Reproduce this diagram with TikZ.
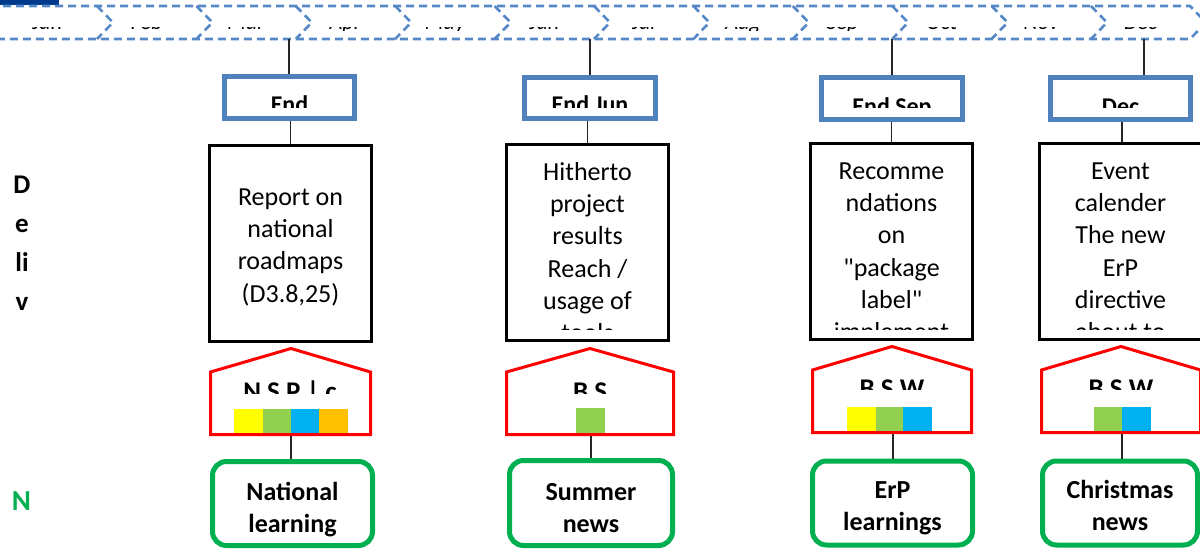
\documentclass[tikz,border=0pt]{standalone}
\usepackage{fontspec}
\setmainfont{Carlito}[Ligatures=TeXOff]
\definecolor{boxblue}{RGB}{79,129,189}
\definecolor{chevblue}{RGB}{86,136,200}
\definecolor{topblue}{RGB}{0,58,140}
\definecolor{newsgreen}{RGB}{0,176,80}
\definecolor{sqyellow}{RGB}{255,255,0}
\definecolor{sqgreen}{RGB}{146,208,80}
\definecolor{sqblue}{RGB}{0,176,240}
\definecolor{sqorange}{RGB}{255,192,0}
\begin{document}
\begin{tikzpicture}[x=1pt,y=-1pt]
\tikzset{
  chev/.style={draw=chevblue, line width=2.6pt, dash pattern=on 8pt off 5pt},
  conn/.style={draw=black!85, line width=1.5pt},
  datebox/.style={draw=boxblue, line width=5pt, inner sep=0pt, minimum height=42pt},
  delivbox/.style={draw=black, line width=3pt, inner sep=0pt, minimum width=162pt, minimum height=196pt},
  newsbox/.style={draw=newsgreen, line width=5pt, rounded corners=14pt, inner sep=0pt, minimum height=84pt},
  housebox/.style={draw=red, line width=3pt, line join=miter},
  monthtxt/.style={font=\fontsize{22}{26}\selectfont\itshape, inner sep=0pt, anchor=base},
  datetxt/.style={font=\fontsize{24}{29}\selectfont\bfseries, inner sep=0pt, anchor=base},
  housetxt/.style={font=\fontsize{27}{32}\selectfont\bfseries, inner sep=0pt, anchor=base},
  delivtxt/.style={font=\fontsize{26}{32.3}\selectfont, inner sep=0pt, align=center, anchor=north},
  newstxt/.style={font=\fontsize{26}{32}\selectfont\bfseries, inner sep=0pt, align=center, anchor=north},
  lefttxt/.style={font=\fontsize{27}{39}\selectfont\bfseries, inner sep=0pt, align=center, anchor=north}
}
\useasboundingbox (0,0) rectangle (1200,553);
\fill[white] (0,0) rectangle (1200,553);

% top-left bar
\fill[topblue] (0,0) rectangle (59,5);

% chevron timeline
\draw[chev] (-10,6) -- (1190,6) -- (1206,22.5) -- (1190,39) -- (-10,39);
\foreach \i in {1,...,11} {
  \pgfmathsetmacro\nx{97+99.4*(\i-1)}
  \draw[chev] (\nx,6) -- (\nx+16,22.5) -- (\nx,39);
}
\begin{scope}
  \clip (0,27.5) rectangle (1200,31);
  \foreach \m [count=\i] in {Jan,Feb,Mar,Apr,May,Jun,Jul,Aug,Sep,Oct,Nov,Dec} {
    \pgfmathsetmacro\mx{97+99.4*(\i-1.5)}
    \node[monthtxt] (m\i) at (\mx,30) {\m};
  }
\end{scope}

% timeline anchor points
\coordinate (t1) at (289,39);
\coordinate (t2) at (590,39);
\coordinate (t3) at (892,39);
\coordinate (t4) at (1144,39);

% date boxes
\node[datebox, minimum width=130pt] (d1) at (289.5,97.5) {};
\node[datebox, minimum width=131pt, minimum height=41pt] (d2) at (590,98) {};
\node[datebox, minimum width=141pt] (d3) at (892,98.5) {};
\node[datebox, minimum width=140pt] (d4) at (1120.5,98.5) {};
\begin{scope}
  \clip (222,76) rectangle (357,107.5);
  \node[datetxt] (dt1) at (289.5,113) {End};
\end{scope}
\begin{scope}
  \clip (522,76) rectangle (658,107.5);
  \node[datetxt] (dt2) at (590,113) {End Jun};
\end{scope}
\begin{scope}
  \clip (819,76) rectangle (965,107.5);
  \node[datetxt] (dt3) at (892,114.5) {End Sep};
\end{scope}
\begin{scope}
  \clip (1048,76) rectangle (1193,107.5);
  \node[datetxt] (dt4) at (1120.5,114.5) {Dec};
\end{scope}

% deliverable boxes
\node[delivbox] (v1) at (290.5,244) {};
\node[delivbox] (v2) at (587.5,242.5) {};
\node[delivbox] (v3) at (891.5,241.5) {};
\node[delivbox] (v4) at (1120.5,241.5) {};
\node[delivtxt] (vt1) at (290.5,182.4) {\strut Report on\\national\\roadmaps\\(D3.8,25)};
\begin{scope}
  \clip (507,145) rectangle (668,330);
  \node[delivtxt] (vt2) at (587.5,157.4) {\strut Hitherto\\project\\results\\Reach /\\usage of\\tools};
\end{scope}
\begin{scope}
  \clip (811,144) rectangle (972,330);
  \node[delivtxt] (vt3) at (891.5,156.4) {\strut Recomme\\ndations\\on\\"package\\label"\\implement};
\end{scope}
\begin{scope}
  \clip (1040,144) rectangle (1201,330);
  \node[delivtxt] (vt4) at (1120.5,156.4) {\strut Event\\calender\\The new\\ErP\\directive\\about to};
\end{scope}

% coloured squares
\fill[sqyellow] (234,409) rectangle (263,434);
\fill[sqgreen]  (263,409) rectangle (291,434);
\fill[sqblue]   (291,409) rectangle (319,434);
\fill[sqorange] (319,409) rectangle (348,434);
\fill[sqgreen]  (576,408) rectangle (605,434);
\fill[sqyellow] (847,407) rectangle (876,432);
\fill[sqgreen]  (876,407) rectangle (903,432);
\fill[sqblue]   (903,407) rectangle (932,432);
\fill[sqgreen]  (1094,407) rectangle (1122,432);
\fill[sqblue]   (1122,407) rectangle (1151,432);

% houses
\draw[housebox] (210.5,434.5) -- (210.5,372) -- (291,348.5) -- (370.5,372) -- (370.5,434.5) -- cycle;
\draw[housebox] (506.5,434.5) -- (506.5,372) -- (590,348.5) -- (673.5,372) -- (673.5,434.5) -- cycle;
\draw[housebox] (812.5,432.5) -- (812.5,370) -- (892,346.5) -- (971.5,370) -- (971.5,432.5) -- cycle;
\draw[housebox] (1041.5,432.5) -- (1041.5,370) -- (1121,346.5) -- (1200.5,370) -- (1200.5,432.5) -- cycle;
\coordinate (h1) at (291,436);
\coordinate (h2) at (591,436);
\coordinate (h3) at (893,434);
\coordinate (h4) at (1122,434);
\begin{scope}
  \clip (212,374) rectangle (369,393.5);
  \node[housetxt] (ht1) at (290,400) {N S P | c};
\end{scope}
\begin{scope}
  \clip (508,374) rectangle (672,393.5);
  \node[housetxt] (ht2) at (590,400) {B S};
\end{scope}
\begin{scope}
  \clip (814,372) rectangle (970,389.5);
  \node[housetxt] (ht3) at (892,398) {B S W};
\end{scope}
\begin{scope}
  \clip (1043,372) rectangle (1200,389.5);
  \node[housetxt] (ht4) at (1121,398) {B S W};
\end{scope}

% news boxes
\node[newsbox, minimum width=160pt] (n1) at (292.5,503.5) {};
\node[newsbox, minimum width=163pt, minimum height=85pt] (n2) at (591,503) {};
\node[newsbox, minimum width=160pt] (n3) at (892.5,503) {};
\node[newsbox, minimum width=155pt] (n4) at (1120,503) {};
\node[newstxt] (nt1) at (292.5,477.6) {\strut National\\learning};
\node[newstxt] (nt2) at (591,477.6) {\strut Summer\\news};
\node[newstxt] (nt3) at (892.5,475.6) {\strut ErP\\learnings};
\node[newstxt] (nt4) at (1120,475.6) {\strut Christmas\\news};

% connectors
\draw[conn] (t1) -- (t1 |- d1.north);
\draw[conn] (t2) -- (t2 |- d2.north);
\draw[conn] (t3) -- (t3 |- d3.north);
\draw[conn] (t4) -- (t4 |- d4.north);
\draw[conn] (d1.south -| v1.north) -- (v1.north);
\draw[conn] (d2.south -| v2.north) -- (v2.north);
\draw[conn] (d3.south -| v3.north) -- (v3.north);
\draw[conn] ([xshift=1.5pt]d4.south) -- ([xshift=1.5pt]v4.north);
\draw[conn] (h1) -- (h1 |- n1.north);
\draw[conn] (h2) -- (h2 |- n2.north);
\draw[conn] (h3) -- (h3 |- n3.north);
\draw[conn] (h4) -- (h4 |- n4.north);

% left labels
\node[lefttxt] (lab1) at (22,165.7) {\strut D\\e\\li\\v};
\node[font=\fontsize{29}{34}\selectfont\bfseries, text=newsgreen, inner sep=0pt, anchor=base] (lab2) at (21.5,510) {N};
\end{tikzpicture}
\end{document}
